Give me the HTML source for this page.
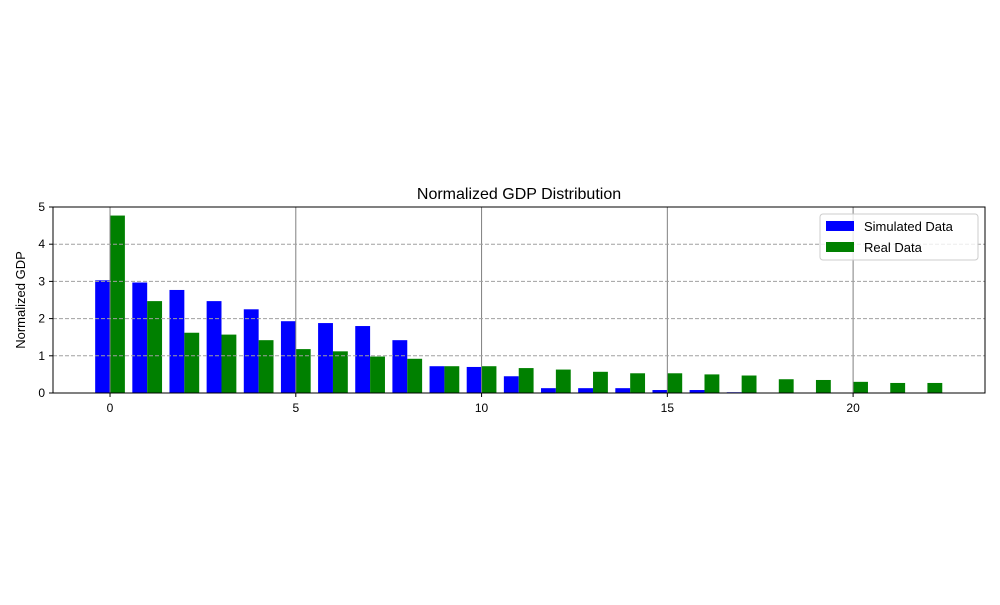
<!DOCTYPE html>
<html><head><meta charset="utf-8"><style>body{margin:0;background:#fff}svg{font-family:"Liberation Sans","DejaVu Sans",sans-serif}</style></head>
<body>
<svg id="c" width="1000" height="600"></svg>
<script>
const categories=[0,1,2,3,4,5,6,7,8,9,10,11,12,13,14,15,16,17,18,19,20,21,22];
const simulated=[3.03,2.97,2.77,2.47,2.25,1.93,1.88,1.80,1.42,0.72,0.70,0.45,0.13,0.13,0.13,0.08,0.08,0.02,0,0,0,0,0];
const real=[4.77,2.47,1.62,1.57,1.42,1.18,1.12,0.98,0.92,0.72,0.72,0.67,0.63,0.57,0.53,0.53,0.50,0.47,0.37,0.35,0.30,0.27,0.27];
const xTicks=[0,5,10,15,20];
const yTicks=[0,1,2,3,4,5];
const L=53,R=985,T=207,B=393,x0=-1.535,x1=23.55,y0=0,y1=5;
const X=v=>L+(v-x0)/(x1-x0)*(R-L);
const Y=v=>B-(v-y0)/(y1-y0)*(B-T);
const svg=document.getElementById('c');const NS='http://www.w3.org/2000/svg';
function mk(t,a,p){const e=document.createElementNS(NS,t);for(const k in a)e.setAttribute(k,a[k]);(p||svg).appendChild(e);return e;}
categories.forEach((c,i)=>{
 let r=mk('rect',{x:X(c-0.4),y:Y(simulated[i]),width:X(c)-X(c-0.4),height:Y(0)-Y(simulated[i]),fill:'#0000ff'});
 
 
 let g=mk('rect',{x:X(c),y:Y(real[i]),width:X(c+0.4)-X(c),height:Y(0)-Y(real[i]),fill:'#008000'});
 
 
});
xTicks.forEach(v=>{
 let l=mk('line',{x1:X(v),x2:X(v),y1:T,y2:B,stroke:'#808080','stroke-width':1});
 
 
 mk('line',{x1:X(v),x2:X(v),y1:B,y2:B+4,stroke:'#000'});
 let t=mk('text',{x:X(v),y:B+19,'text-anchor':'middle','font-size':12});t.textContent=v;
 
 
});
yTicks.forEach(v=>{
 if(v>0&&v<5){let l=mk('line',{x1:L,x2:R,y1:Y(v),y2:Y(v),stroke:'#a0a0a0','stroke-dasharray':'4,2'});
 
 }
 mk('line',{x1:L-4,x2:L,y1:Y(v),y2:Y(v),stroke:'#000'});
 let t=mk('text',{x:L-8,y:Y(v)+4,'text-anchor':'end','font-size':12});t.textContent=v;
 
 
});
let f=mk('rect',{x:L,y:T,width:R-L,height:B-T,fill:'none',stroke:'#000'});


let ti=mk('text',{x:(L+R)/2,y:T-8,'text-anchor':'middle','font-size':16});ti.textContent='Normalized GDP Distribution';


let yl=mk('text',{x:0,y:0,'text-anchor':'middle','font-size':13,transform:`translate(25,${(T+B)/2}) rotate(-90)`});yl.textContent='Normalized GDP';


const lg=mk('g',{});


mk('rect',{x:820,y:214,width:158,height:46,rx:3,fill:'#fff','fill-opacity':0.8,stroke:'#ccc'},lg);
mk('rect',{x:826,y:221,width:28,height:10,fill:'#0000ff'},lg);
let a=mk('text',{x:864,y:231,'font-size':13},lg);a.textContent='Simulated Data';
mk('rect',{x:826,y:242,width:28,height:10,fill:'#008000'},lg);
let b=mk('text',{x:864,y:252,'font-size':13},lg);b.textContent='Real Data';
</script>
</body></html>
